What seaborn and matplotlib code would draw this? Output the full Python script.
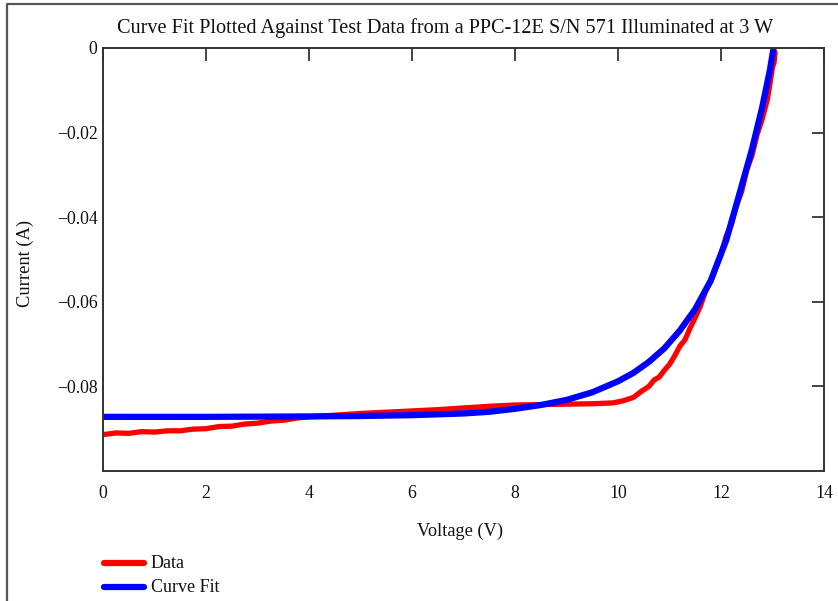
import numpy as np
import pandas as pd
import matplotlib
matplotlib.use("Agg")
import matplotlib.pyplot as plt
from matplotlib.lines import Line2D
import seaborn as sns

# ---- data ----
data_v = [0.0, 0.25, 0.5, 0.75, 1.0, 1.25, 1.5, 1.75, 2.0, 2.25, 2.5, 2.75, 3.0, 3.25, 3.5, 3.75,
          4.0, 4.5, 5.0, 5.5, 6.0, 6.5, 7.0, 7.5, 8.0, 8.5, 9.0, 9.5, 9.9, 10.1, 10.3, 10.45,
          10.6, 10.7, 10.8, 10.9, 11.0, 11.1, 11.2, 11.3, 11.4, 11.5, 11.6, 11.7, 11.8, 11.9,
          12.0, 12.1, 12.2, 12.3, 12.4, 12.5, 12.6, 12.7, 12.8, 12.9, 12.95, 13.0, 13.03, 13.05]
data_i = [-0.0914, -0.0910, -0.0911, -0.0907, -0.0908, -0.0905, -0.0905, -0.0901, -0.0900, -0.0895,
          -0.0894, -0.0889, -0.0887, -0.0882, -0.0880, -0.0875, -0.0872, -0.0868, -0.0864, -0.0861,
          -0.0858, -0.0855, -0.0851, -0.0847, -0.0844, -0.0843, -0.0842, -0.0841, -0.0839, -0.0834,
          -0.0826, -0.0812, -0.0800, -0.0785, -0.0778, -0.0762, -0.0748, -0.0728, -0.0705, -0.0690,
          -0.0662, -0.0637, -0.0610, -0.0575, -0.0552, -0.0520, -0.0488, -0.0445, -0.0418, -0.0372,
          -0.0340, -0.0288, -0.0255, -0.0205, -0.0168, -0.0122, -0.0085, -0.0045, -0.0035, -0.0010]

fit_v = [0.0, 2.0, 4.0, 5.0, 6.0, 6.5, 7.0, 7.5, 8.0, 8.5, 9.0, 9.5, 10.0, 10.3, 10.6, 10.9,
         11.2, 11.5, 11.8, 12.1, 12.35, 12.6, 12.8, 12.95, 13.02]
fit_i = [-0.0872, -0.0872, -0.0871, -0.0870, -0.0868, -0.0866, -0.0864, -0.0860, -0.0853, -0.0844,
         -0.0832, -0.0814, -0.0788, -0.0768, -0.0742, -0.0710, -0.0668, -0.0617, -0.0550, -0.0455,
         -0.0348, -0.0240, -0.0140, -0.0052, 0.0]

x_ticks = [0, 2, 4, 6, 8, 10, 12, 14]
y_ticks = [0, -0.02, -0.04, -0.06, -0.08]
y_tick_labels = ["0", "\u22120.02", "\u22120.04", "\u22120.06", "\u22120.08"]

title = "Curve Fit Plotted Against Test Data from a PPC-12E S/N 571 Illuminated at 3 W"

sns.set_theme(style="white")
plt.rcParams['font.family'] = ['Liberation Serif', 'DejaVu Serif']

W, H = 838, 601
fig = plt.figure(figsize=(W / 100, H / 100), dpi=100)
ax = fig.add_axes([103 / W, 1 - 471 / H, (824 - 103) / W, (471 - 48) / H])

df_data = pd.DataFrame({"V": data_v, "I": data_i})
df_fit = pd.DataFrame({"V": fit_v, "I": fit_i})
sns.lineplot(data=df_data, x="V", y="I", ax=ax, color="#ff0000", lw=3.8, sort=False,
             solid_capstyle="round")
sns.lineplot(data=df_fit, x="V", y="I", ax=ax, color="#0000ff", lw=4.5, sort=False,
             solid_capstyle="round")

ax.set_xlim(0, 14)
ax.set_ylim(-0.1, 0)
ax.set_xticks(x_ticks)
ax.set_xticklabels([str(t) for t in x_ticks])
ax.set_yticks(y_ticks)
ax.set_yticklabels(y_tick_labels)
ax.tick_params(direction="in", length=9, width=1.2, color="#222222", top=True, right=True,
               labelsize=12.8, labelcolor="#111111", pad=4)
ax.tick_params(axis="x", pad=10)
for s in ax.spines.values():
    s.set_color("#333333")
    s.set_linewidth(1.4)
ax.set_xlabel("")
ax.set_ylabel("")

fig.text(445 / W, 1 - 28 / H, title, ha="center", va="center", fontsize=14.6, color="#111111")
fig.text(460 / W, 1 - 531 / H, "Voltage (V)", ha="center", va="center", fontsize=13.2, color="#111111")
fig.text(25 / W, 1 - 263 / H, "Current (A)", ha="center", va="center", rotation=90,
         fontsize=13.3, color="#111111")

# legend
for yy, col, lab in [(563, "#ff0000", "Data"), (587, "#0000ff", "Curve Fit")]:
    fig.add_artist(Line2D([104 / W, 144 / W], [1 - yy / H, 1 - yy / H], color=col, lw=4.5,
                          solid_capstyle="round", transform=fig.transFigure))
    fig.text(151 / W, 1 - yy / H, lab, ha="left", va="center", fontsize=13, color="#111111")

# page border
fig.add_artist(Line2D([7 / W, 7 / W, 1.0], [0.0, 1 - 4 / H, 1 - 4 / H], color="#555555", lw=1.6,
                      transform=fig.transFigure))

fig.savefig("out.png", dpi=100)
